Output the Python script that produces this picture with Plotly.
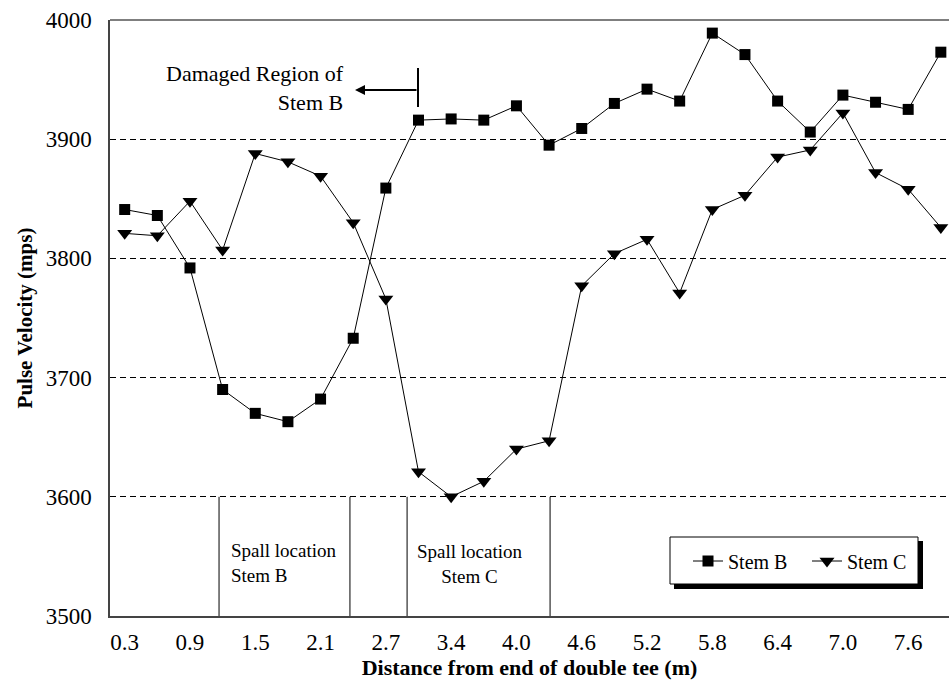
import plotly.graph_objects as go

distances = ["0.3", "0.6", "0.9", "1.2", "1.5", "1.8", "2.1", "2.4", "2.7", "3.0",
             "3.4", "3.7", "4.0", "4.3", "4.6", "4.9", "5.2", "5.5", "5.8", "6.1",
             "6.4", "6.7", "7.0", "7.3", "7.6", "7.9"]
stem_b = [3841, 3836, 3792, 3690, 3670, 3663, 3682, 3733, 3859, 3916,
          3917, 3916, 3928, 3895, 3909, 3930, 3942, 3932, 3989, 3971,
          3932, 3906, 3937, 3931, 3925, 3973]
stem_c = [3821, 3819, 3848, 3807, 3888, 3881, 3869, 3830, 3766, 3621,
          3600, 3613, 3640, 3647, 3777, 3804, 3816, 3771, 3841, 3853,
          3885, 3891, 3922, 3872, 3858, 3826]
tick_labels = distances[::2]
y_ticks = [3500, 3600, 3700, 3800, 3900, 4000]

FONT = "Liberation Serif"

fig = go.Figure()
fig.add_trace(go.Scatter(x=distances, y=stem_b, name="Stem B", mode="lines+markers",
                         line=dict(color="black", width=1),
                         marker=dict(symbol="square", size=11, color="black"),
                         cliponaxis=False))
fig.add_trace(go.Scatter(x=distances, y=stem_c, name="Stem C", mode="lines+markers",
                         line=dict(color="black", width=1),
                         marker=dict(symbol="triangle-down", size=13, color="black"),
                         cliponaxis=False))

W, H = 949, 685
L, R, T, B = 110, 0, 20, 69
pw, ph = W - L - R, H - T - B

def px(x):
    return (x - L) / pw

def py(y):
    return (H - B - y) / ph

shapes = []
# top border
shapes.append(dict(type="line", xref="paper", yref="paper", x0=0, x1=1, y0=1, y1=1,
                   line=dict(color="#555555", width=1.5)))
# spall location boundaries
for xv in [2.89, 6.90, 8.65, 13.03]:
    shapes.append(dict(type="line", xref="x", yref="y", x0=xv, x1=xv, y0=3500, y1=3600,
                       line=dict(color="black", width=1)))
# damaged region tick
shapes.append(dict(type="line", xref="paper", yref="paper", x0=px(418), x1=px(418),
                   y0=py(107), y1=py(68), line=dict(color="black", width=2)))
# legend shadow and box
shapes.append(dict(type="rect", xref="paper", yref="paper", x0=px(674), x1=px(923),
                   y0=py(589), y1=py(541), fillcolor="black", line=dict(width=0)))
shapes.append(dict(type="rect", xref="paper", yref="paper", x0=px(670), x1=px(918),
                   y0=py(584), y1=py(537), fillcolor="white",
                   line=dict(color="black", width=1)))

annotations = [
    dict(xref="paper", yref="paper", x=px(346), y=py(88), xanchor="right", yanchor="middle",
         align="right", showarrow=False, text="Damaged Region of<br>Stem B",
         font=dict(family=FONT, size=22, color="black")),
    dict(xref="paper", yref="paper", x=px(355), y=py(90), ax=63, ay=0, text="",
         showarrow=True, arrowhead=2, arrowsize=1, arrowwidth=2, arrowcolor="black",
         standoff=0, startstandoff=0),
    dict(xref="paper", yref="paper", x=px(229), y=py(563), xanchor="left", yanchor="middle",
         align="left", showarrow=False, text="Spall location<br>Stem B",
         font=dict(family=FONT, size=19, color="black")),
    dict(xref="paper", yref="paper", x=px(470), y=py(564), xanchor="center", yanchor="middle",
         align="center", showarrow=False, text="Spall location<br>Stem C",
         font=dict(family=FONT, size=19, color="black")),
]

fig.update_layout(
    width=W, height=H,
    margin=dict(l=L, r=R, t=T, b=B),
    paper_bgcolor="white", plot_bgcolor="white",
    font=dict(family=FONT, size=23, color="black"),
    showlegend=True,
    legend=dict(orientation="h", x=px(688), y=py(561), xanchor="left", yanchor="middle",
                bgcolor="rgba(0,0,0,0)", borderwidth=0,
                font=dict(family=FONT, size=20, color="black"),
                entrywidth=74, entrywidthmode="pixels"),
    shapes=shapes,
    annotations=annotations,
    xaxis=dict(type="category", range=[-0.45, 25.25], tickmode="array",
               tickvals=tick_labels, ticktext=tick_labels, showgrid=False,
               showline=True, linecolor="#444444", linewidth=1.5, ticks="",
               ticklabelstandoff=5, zeroline=False,
               title=dict(text="<b>Distance from end of double tee (m)</b>",
                          font=dict(family=FONT, size=22), standoff=3)),
    yaxis=dict(range=[3500, 4000], tickmode="array", tickvals=y_ticks,
               showgrid=True, gridcolor="black", gridwidth=1, griddash="6px,4px",
               showline=True, linecolor="#444444", linewidth=1.5, ticks="",
               ticklabelstandoff=12, zeroline=False,
               title=dict(text="<b>Pulse Velocity (mps)</b>",
                          font=dict(family=FONT, size=21), standoff=7)),
)

fig.write_html("out.html", config={"displayModeBar": False},
               post_script="document.body.style.margin='0px';")
